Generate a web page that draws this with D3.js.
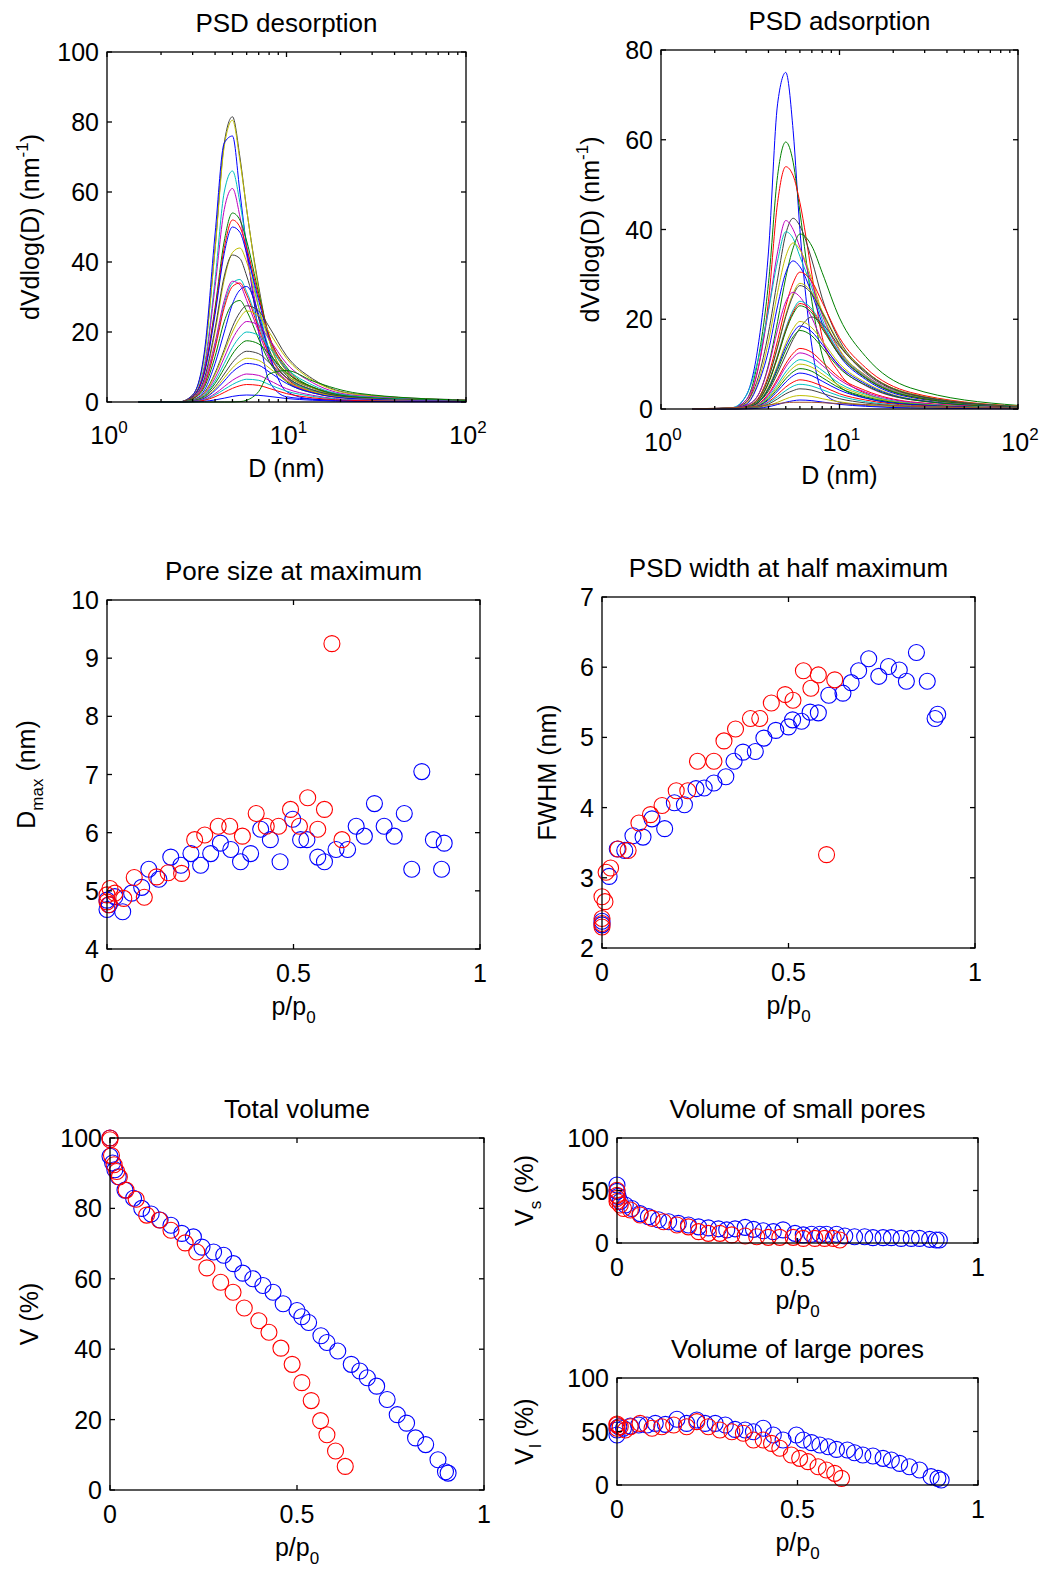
<!DOCTYPE html>
<html>
<head>
<meta charset="utf-8">
<script src="https://cdn.jsdelivr.net/npm/d3@7/dist/d3.min.js"></script>
<style>
  body { margin: 0; background: #fff; }
  text { font-family: "Liberation Sans", Arial, sans-serif; fill: #000; }
</style>
</head>
<body>
<svg id="fig" width="1045" height="1573"></svg>
<script>
// ---- data ----

// pore diameters (nm) where each PSD curve was read
const psdGrid = [1.5, 2.5, 3, 3.5, 4, 4.5, 5, 5.5, 6, 7, 8, 10, 14, 25, 100];

const desorptionColors = ["k", "y", "b", "c", "m", "g", "r", "b", "y", "k", "c", "m", "r", "b",
  "g", "k", "y", "m", "c", "g", "k", "y", "b", "m", "c", "r", "b", "g"];
const desorptionCurves = [
  [0, 0, 2, 14, 44, 74, 81.5, 70, 55, 33, 18, 8, 4, 1.5, 0.3],
  [0, 0, 2, 13.7, 43.5, 73, 80.5, 69, 55, 32, 17.7, 8, 4, 1.4, 0.3],
  [0, 0, 2, 15, 48, 74, 76, 60, 44, 20, 6, 1.5, 0.8, 0.4, 0.2],
  [0, 0, 1.6, 11, 35, 60, 66, 57, 45, 27, 15, 7, 3.3, 1.2, 0.3],
  [0, 0, 1.5, 10, 33, 55, 61, 53, 42, 24, 13, 6, 3, 1.1, 0.2],
  [0, 0, 1.6, 9, 27, 46, 54, 52, 46, 31, 19, 10, 4.3, 1.6, 0.3],
  [0, 0, 1.6, 9, 26, 44, 52, 50, 44, 30, 19, 9.4, 4.2, 1.6, 0.3],
  [0, 0, 1.5, 8.5, 25, 42.5, 50, 48.5, 42.5, 29, 18, 9, 4, 1.5, 0.3],
  [0, 0, 1.3, 6.6, 20, 35, 42.7, 44, 40, 27, 17.6, 8.8, 4, 1.3, 0.3],
  [0, 0, 1.3, 7, 21, 36, 42, 41, 36, 24, 15, 7.6, 3.4, 1.3, 0.3],
  [0, 0, 1, 5.3, 16, 28, 34, 35, 31.5, 22, 14, 7, 3.2, 1, 0.2],
  [0, 0, 1, 6, 17, 29, 34.5, 33.5, 29, 20, 12.4, 6.2, 2.8, 1, 0.2],
  [0, 0, 1, 5, 15.3, 27, 33, 34, 30.6, 21, 13.6, 6.8, 3, 1, 0.2],
  [0, 0, 0.6, 3.5, 11, 20, 28, 32, 33, 25, 14, 3, 0.8, 0.3, 0.1],
  [0, 0, 0.9, 4.4, 13, 23, 28, 29, 26, 18, 11.6, 5.8, 2.6, 0.9, 0.2],
  [0, 0, 0.6, 2.8, 8.3, 15, 21.5, 25.6, 27.5, 26, 21.5, 13.2, 6.6, 2.2, 0.6],
  [0, 0, 0.5, 2.6, 7.8, 14.3, 20, 24, 26, 24.7, 20, 12.5, 6.2, 2.1, 0.5],
  [0, 0, 0.5, 2.3, 6.9, 12.7, 18, 21.4, 23, 21.9, 18, 11, 5.5, 1.8, 0.5],
  [0, 0, 0.4, 2, 6, 11, 15.6, 18.6, 20, 19, 15.6, 9.6, 4.8, 1.6, 0.4],
  [0, 0, 0.35, 1.75, 5.3, 9.6, 13.7, 16.3, 17.5, 16.6, 13.7, 8.4, 4.2, 1.4, 0.35],
  [0, 0, 0.3, 1.5, 4.4, 8, 11.3, 13.5, 14.5, 13.8, 11.3, 7, 3.5, 1.2, 0.3],
  [0, 0, 0.25, 1.25, 3.75, 6.9, 9.75, 11.6, 12.5, 11.9, 9.75, 6, 3, 1, 0.25],
  [0, 0, 0.2, 1.1, 3.3, 6, 8.6, 10.2, 11, 10.5, 8.6, 5.3, 2.6, 0.9, 0.2],
  [0, 0, 0.16, 0.8, 2.4, 4.4, 6.2, 7.4, 8, 7.6, 6.2, 3.8, 1.9, 0.6, 0.16],
  [0, 0, 0.13, 0.65, 2, 3.6, 5, 6, 6.5, 6.2, 5, 3.1, 1.6, 0.5, 0.13],
  [0, 0, 0.1, 0.5, 1.5, 2.75, 3.9, 4.65, 5, 4.75, 3.9, 2.4, 1.2, 0.4, 0.1],
  [0, 0, 0.04, 0.2, 0.6, 1.1, 1.6, 1.9, 2, 1.9, 1.6, 1, 0.5, 0.16, 0.04],
  [0, 0, 0, 0, 0, 0, 0, 0.1, 0.5, 3, 8, 9, 6, 2.5, 0.5]
];

const adsorptionColors = ["b", "g", "r", "k", "m", "c", "g", "y", "b", "r", "y", "k", "m", "c",
  "r", "g", "k", "y", "b", "g", "r", "m", "c", "y", "g", "b", "r", "c", "k", "y", "b", "n"];
const adsorptionCurves = [
  [0, 0.2, 3, 14, 35, 68, 75, 62, 40, 14, 4, 1.5, 0.8, 0.4, 0.1],
  [0, 0.2, 2, 11, 28, 52, 59.5, 55, 44, 24, 12, 5, 2.5, 1, 0.2],
  [0, 0.2, 1.5, 9, 24, 46, 54, 52, 46, 30, 16, 8, 3.5, 1.3, 0.2],
  [0, 0.2, 1.5, 7, 17, 29, 39, 42.5, 40.8, 33.2, 24.7, 15.3, 8.5, 3.4, 0.5],
  [0, 0.3, 2, 9, 22, 35, 42, 40, 36, 28, 21, 13, 7.5, 3, 0.5],
  [0, 0.3, 3, 11, 22, 33, 39.5, 38, 34, 27, 20, 12.5, 7, 2.8, 0.5],
  [0, 0.2, 0.8, 3.1, 9.8, 19.5, 29.3, 35.9, 39, 36.3, 30.4, 20.3, 11.7, 4.7, 0.8],
  [0, 0.2, 1.2, 6, 15, 26, 34, 37, 35.5, 28.9, 21.5, 13.3, 7.4, 3, 0.44],
  [0, 0.2, 1, 5.5, 13, 23, 30.4, 33, 31.7, 25.7, 19.1, 11.9, 6.6, 2.6, 0.4],
  [0, 0.15, 0.6, 2.4, 7.6, 15.3, 22.9, 28.1, 30.5, 28.4, 23.8, 15.9, 9.2, 3.7, 0.6],
  [0, 0.14, 0.56, 2.2, 7, 14, 21, 25.8, 28, 26, 21.8, 14.6, 8.4, 3.4, 0.56],
  [0, 0.14, 0.55, 2.2, 6.9, 13.8, 20.6, 25.3, 27.5, 25.6, 21.5, 14.3, 8.3, 3.3, 0.55],
  [0, 0.13, 0.8, 3.1, 9.4, 17.7, 23.9, 26, 25, 20.3, 15.1, 9.4, 5.2, 2.1, 0.3],
  [0, 0.12, 0.48, 1.9, 6, 12, 18, 22.1, 24, 22.3, 18.7, 12.5, 7.2, 2.9, 0.5],
  [0, 0.12, 0.47, 1.9, 5.9, 11.8, 17.6, 21.6, 23.5, 21.9, 18.3, 12.2, 7, 2.8, 0.47],
  [0, 0.12, 0.46, 1.8, 5.75, 11.5, 17.3, 21.2, 23, 21.4, 17.9, 12, 6.9, 2.8, 0.46],
  [0, 0.1, 0.4, 1.4, 4, 8, 12, 15.5, 18, 20.5, 19, 14, 8, 3.2, 0.5],
  [0, 0.1, 0.39, 1.6, 4.9, 9.75, 14.6, 17.9, 19.5, 18.1, 15.2, 10.1, 5.9, 2.3, 0.4],
  [0, 0.09, 0.37, 1.5, 4.6, 9.25, 13.9, 17, 18.5, 17.2, 14.4, 9.6, 5.6, 2.2, 0.37],
  [0, 0.09, 0.35, 1.4, 4.4, 8.75, 13.1, 16.1, 17.5, 16.3, 13.7, 9.1, 5.3, 2.1, 0.35],
  [0, 0.07, 0.27, 1.1, 3.4, 6.75, 10.1, 12.4, 13.5, 12.6, 10.5, 7, 4.1, 1.6, 0.27],
  [0, 0.06, 0.25, 1, 3.1, 6.25, 9.4, 11.5, 12.5, 11.6, 9.75, 6.5, 3.75, 1.5, 0.25],
  [0, 0.06, 0.22, 0.9, 2.75, 5.5, 8.25, 10.1, 11, 10.2, 8.6, 5.7, 3.3, 1.3, 0.22],
  [0, 0.05, 0.2, 0.8, 2.5, 5, 7.5, 9.2, 10, 9.3, 7.8, 5.2, 3, 1.2, 0.2],
  [0, 0.05, 0.18, 0.7, 2.25, 4.5, 6.75, 8.3, 9, 8.4, 7, 4.7, 2.7, 1.1, 0.18],
  [0, 0.04, 0.16, 0.64, 2, 4, 6, 7.4, 8, 7.4, 6.2, 4.2, 2.4, 1, 0.16],
  [0, 0.03, 0.13, 0.5, 1.6, 3.25, 4.9, 6, 6.5, 6, 5.1, 3.4, 2, 0.8, 0.13],
  [0, 0.03, 0.11, 0.44, 1.4, 2.75, 4.1, 5.1, 5.5, 5.1, 4.3, 2.9, 1.65, 0.66, 0.11],
  [0, 0.02, 0.09, 0.36, 1.1, 2.25, 3.4, 4.1, 4.5, 4.2, 3.5, 2.3, 1.35, 0.54, 0.09],
  [0, 0.015, 0.06, 0.24, 0.75, 1.5, 2.25, 2.8, 3, 2.8, 2.3, 1.6, 0.9, 0.36, 0.06],
  [0, 0.01, 0.04, 0.16, 0.5, 1, 1.5, 1.84, 2, 1.86, 1.56, 1.04, 0.6, 0.24, 0.04],
  [0, 0.3, 0.4, 0.6, 0.9, 1.2, 1.4, 1.5, 1.5, 1.5, 1.4, 1.2, 1, 0.6, 0.2]
];

// [p/p0, value] pairs, blue = adsorption branch, red = desorption branch
const dmaxBlue = [[0, 4.68], [0.006, 4.76], [0.021, 4.9], [0, 4.84], [0.042, 4.64], [0.066, 4.96],
  [0.093, 5.06], [0.112, 5.37], [0.139, 5.2], [0.171, 5.58], [0.198, 5.44], [0.225, 5.64],
  [0.251, 5.44], [0.278, 5.64], [0.304, 5.82], [0.332, 5.71], [0.358, 5.5], [0.385, 5.64],
  [0.412, 6.06], [0.438, 5.88], [0.464, 5.5], [0.498, 6.23], [0.519, 5.88], [0.536, 5.88],
  [0.565, 5.58], [0.583, 5.5], [0.614, 5.71], [0.645, 5.71], [0.668, 6.11], [0.69, 5.94],
  [0.717, 6.5], [0.743, 6.11], [0.77, 5.94], [0.797, 6.33], [0.817, 5.37], [0.844, 7.05],
  [0.875, 5.88], [0.897, 5.37], [0.904, 5.82]];
const dmaxRed = [[0, 4.93], [0.008, 5.04], [0, 4.81], [0.004, 4.76], [0.021, 4.96], [0.045, 4.87],
  [0.073, 5.23], [0.1, 4.89], [0.133, 5.24], [0.164, 5.31], [0.2, 5.3], [0.235, 5.88],
  [0.262, 5.96], [0.298, 6.11], [0.329, 6.11], [0.363, 5.94], [0.4, 6.33], [0.427, 6.11],
  [0.46, 6.11], [0.492, 6.4], [0.516, 6.11], [0.538, 6.6], [0.565, 6.06], [0.583, 6.4],
  [0.603, 9.25], [0.63, 5.88]];

const fwhmBlue = [[0, 2.33], [0, 2.38], [0.019, 3.02], [0.041, 3.41], [0.061, 3.39], [0.083, 3.6],
  [0.11, 3.58], [0.134, 3.84], [0.168, 3.7], [0.194, 4.07], [0.221, 4.04], [0.252, 4.27],
  [0.274, 4.28], [0.3, 4.35], [0.332, 4.44], [0.354, 4.66], [0.378, 4.79], [0.411, 4.8],
  [0.434, 4.99], [0.466, 5.1], [0.5, 5.15], [0.511, 5.25], [0.535, 5.23], [0.558, 5.36],
  [0.58, 5.35], [0.608, 5.6], [0.646, 5.63], [0.668, 5.78], [0.688, 5.95], [0.715, 6.12],
  [0.742, 5.87], [0.768, 6.01], [0.797, 5.96], [0.816, 5.8], [0.843, 6.21], [0.872, 5.8],
  [0.893, 5.27], [0.9, 5.33]];
const fwhmRed = [[0, 2.3], [0, 2.35], [0, 2.42], [0, 2.73], [0.008, 2.66], [0.011, 3.08],
  [0.023, 3.14], [0.043, 3.41], [0.07, 3.39], [0.099, 3.78], [0.13, 3.9], [0.161, 4.03],
  [0.199, 4.24], [0.23, 4.24], [0.256, 4.66], [0.3, 4.66], [0.327, 4.95], [0.358, 5.12],
  [0.398, 5.27], [0.423, 5.27], [0.454, 5.49], [0.491, 5.61], [0.512, 5.53], [0.54, 5.95],
  [0.56, 5.7], [0.58, 5.89], [0.602, 3.33], [0.624, 5.82]];

const volBlue = [[0, 100], [0, 94.8], [0.007, 92.9], [0.013, 91], [0.022, 89], [0.04, 85.2],
  [0.063, 82.9], [0.085, 80], [0.11, 78.4], [0.134, 76.7], [0.163, 75.2], [0.192, 72.9],
  [0.223, 71.9], [0.246, 69], [0.277, 67.6], [0.304, 66.7], [0.33, 64.3], [0.355, 61.6],
  [0.382, 60], [0.409, 58.1], [0.436, 56.2], [0.463, 52.9], [0.5, 51], [0.513, 49.2],
  [0.531, 47.6], [0.564, 43.8], [0.58, 41.9], [0.609, 39.5], [0.645, 35.7], [0.668, 33.8],
  [0.688, 31.9], [0.713, 29.5], [0.741, 25.7], [0.768, 21.4], [0.793, 19], [0.817, 14.8],
  [0.844, 12.9], [0.877, 8.6], [0.897, 5.2], [0.904, 4.8]];
const volRed = [[0, 100], [0, 99.5], [0.004, 95], [0.011, 92.4], [0.018, 90.5], [0.025, 88.9],
  [0.043, 85.2], [0.07, 82.6], [0.098, 78.1], [0.132, 76.7], [0.163, 73.8], [0.201, 70.2],
  [0.232, 67.6], [0.259, 63.1], [0.296, 59], [0.329, 56.2], [0.359, 51.7], [0.398, 48.1],
  [0.425, 44.8], [0.457, 40.3], [0.487, 35.7], [0.513, 30.5], [0.538, 25.4], [0.563, 19.7],
  [0.58, 15.7], [0.603, 11.1], [0.629, 6.7]];

const smallBlue = [[0, 55.2], [0, 49.2], [0.003, 44.4], [0.009, 39.5], [0.023, 36.2], [0.041, 32.8],
  [0.064, 28], [0.087, 25.1], [0.115, 22.2], [0.143, 20.2], [0.17, 18.7], [0.198, 17.1],
  [0.226, 15.4], [0.253, 14.4], [0.281, 13.5], [0.304, 12.5], [0.327, 13.5], [0.355, 14.9],
  [0.378, 13], [0.405, 11.7], [0.433, 10.8], [0.46, 12.5], [0.493, 9.2], [0.516, 7.7],
  [0.539, 8.3], [0.562, 8.3], [0.58, 8.3], [0.608, 8.3], [0.631, 6.7], [0.658, 6],
  [0.686, 6], [0.709, 5.1], [0.737, 5.1], [0.76, 5.1], [0.787, 4.4], [0.815, 4.4],
  [0.838, 4.4], [0.866, 3.5], [0.884, 2.9], [0.893, 2.9]];
const smallRed = [[0, 50.2], [0, 45.4], [0, 42.5], [0, 39.5], [0.009, 36.2], [0.018, 32.8],
  [0.037, 31.4], [0.064, 26.7], [0.097, 23.5], [0.129, 20.2], [0.166, 17.1], [0.198, 15.4],
  [0.226, 10.8], [0.253, 9.2], [0.285, 9.2], [0.318, 7.7], [0.355, 6.7], [0.387, 6],
  [0.419, 5.4], [0.451, 5.4], [0.488, 5.4], [0.516, 4.4], [0.548, 4.4], [0.575, 4.4],
  [0.599, 4.4], [0.617, 2.9]];

const largeBlue = [[0, 46.7], [0, 51.4], [0.005, 54.5], [0.018, 53], [0.037, 55.1], [0.06, 56.1],
  [0.083, 56.1], [0.106, 57.6], [0.134, 56.7], [0.166, 61.4], [0.193, 57.6], [0.221, 60.7],
  [0.244, 57.6], [0.272, 57.6], [0.3, 56.1], [0.327, 52], [0.355, 51.4], [0.378, 49.8],
  [0.405, 53], [0.433, 46.7], [0.46, 42], [0.497, 46.7], [0.516, 42], [0.539, 39.6],
  [0.562, 37.4], [0.585, 35.8], [0.608, 33.3], [0.638, 32.7], [0.658, 30.2], [0.681, 28],
  [0.709, 27.1], [0.737, 24.9], [0.76, 23.4], [0.783, 20.2], [0.81, 17.1], [0.838, 14],
  [0.87, 7.8], [0.889, 6.2], [0.898, 4.7]];
const largeRed = [[0, 53], [0, 56.1], [0, 57], [0.009, 54.5], [0.023, 51.4], [0.037, 54.5],
  [0.064, 57.6], [0.097, 53], [0.124, 54.5], [0.157, 56.1], [0.193, 54.5], [0.221, 59.2],
  [0.253, 54.5], [0.285, 51.4], [0.318, 49.8], [0.35, 48.3], [0.378, 42], [0.405, 42],
  [0.428, 38.9], [0.451, 34.3], [0.483, 28], [0.506, 24.9], [0.529, 21.8], [0.557, 17.1],
  [0.58, 14], [0.603, 10.9], [0.622, 6.2]];

// tick values
const logMajor = [1, 10, 100];
const logMinor = [2, 3, 4, 5, 6, 7, 8, 9, 20, 30, 40, 50, 60, 70, 80, 90];
const desTicks = [0, 20, 40, 60, 80, 100];
const adsTicks = [0, 20, 40, 60, 80];
const pTicks = [0, 0.5, 1];
const dmaxTicks = [4, 5, 6, 7, 8, 9, 10];
const fwhmTicks = [2, 3, 4, 5, 6, 7];
const volTicks = [0, 20, 40, 60, 80, 100];
const poreTicks = [0, 50, 100];

// ---- drawing ----
const colorMap = { b: "#0000ff", g: "#008000", r: "#ff0000", c: "#00bfbf", m: "#bf00bf",
  y: "#bfbf00", k: "#404040", n: "#a0522d" };
const FS = 25, SFS = 17, TFS = 26;
const svg = d3.select("#fig");

function rich(text, parts) {
  let shift = 0;
  parts.forEach((p) => {
    const target = p[1] === "sub" ? 8 : p[1] === "sup" ? -11 : 0;
    const ts = text.append("tspan").text(p[0]).attr("dy", target - shift);
    if (p[1]) ts.attr("font-size", SFS);
    shift = target;
  });
  return text;
}

function frame(x, y, xTicks, yTicks, log) {
  const [x0, x1] = x.range();
  const [y0, y1] = y.range();
  const g = svg.append("g");
  g.append("rect")
    .attr("x", x0).attr("y", y1)
    .attr("width", x1 - x0).attr("height", y0 - y1)
    .attr("fill", "none").attr("stroke", "#000").attr("stroke-width", 1.3);
  const tick = (x1_, y1_, x2_, y2_) =>
    g.append("line").attr("x1", x1_).attr("y1", y1_).attr("x2", x2_).attr("y2", y2_)
      .attr("stroke", "#000").attr("stroke-width", 1.3);
  xTicks.forEach((v) => {
    tick(x(v), y0, x(v), y0 - 5);
    tick(x(v), y1, x(v), y1 + 5);
  });
  if (log) {
    logMinor.forEach((v) => {
      tick(x(v), y0, x(v), y0 - 3);
      tick(x(v), y1, x(v), y1 + 3);
    });
  }
  yTicks.forEach((v) => {
    tick(x0, y(v), x0 + 5, y(v));
    tick(x1, y(v), x1 - 5, y(v));
    g.append("text").attr("x", x0 - 8).attr("y", y(v) + 9)
      .attr("text-anchor", "end").attr("font-size", FS).text(v);
  });
  xTicks.forEach((v) => {
    if (log) {
      rich(g.append("text").attr("x", x(v) + 2).attr("y", y0 + 42)
        .attr("text-anchor", "middle").attr("font-size", FS),
        [["10"], [String(Math.round(Math.log10(v))), "sup"]]);
    } else {
      g.append("text").attr("x", x(v)).attr("y", y0 + 33)
        .attr("text-anchor", "middle").attr("font-size", FS).text(v);
    }
  });
  return g;
}

function labels(x, y, title, xParts, xOff, yParts, yX) {
  const [x0, x1] = x.range();
  const [y0, y1] = y.range();
  svg.append("text").attr("x", (x0 + x1) / 2).attr("y", y1 - 20)
    .attr("text-anchor", "middle").attr("font-size", TFS).text(title);
  rich(svg.append("text").attr("x", (x0 + x1) / 2).attr("y", y0 + xOff)
    .attr("text-anchor", "middle").attr("font-size", FS), xParts);
  rich(svg.append("text")
    .attr("transform", `translate(${yX},${(y0 + y1) / 2}) rotate(-90)`)
    .attr("text-anchor", "middle").attr("font-size", FS), yParts);
}

function psdPanel(box, yMax, yTicks, curves, colors, title, yX) {
  const x = d3.scaleLog().domain([1, 100]).range([box.l, box.r]);
  const y = d3.scaleLinear().domain([0, yMax]).range([box.b, box.t]);
  const line = d3.line().x((d) => x(d[0])).y((d) => y(d[1])).curve(d3.curveMonotoneX);
  svg.append("g").selectAll("path")
    .data(curves)
    .enter()
    .append("path")
    .attr("d", (c) => line(psdGrid.map((D, i) => [D, c[i]])))
    .attr("fill", "none")
    .attr("stroke", (c, i) => colorMap[colors[i]])
    .attr("stroke-width", 1);
  frame(x, y, logMajor, yTicks, true);
  labels(x, y, title, [["D (nm)"]], 75,
    [["dVdlog(D) (nm"], ["-1", "sup"], [")"]], yX);
}

function scatterPanel(box, yDomain, yTicks, blue, red, title, yParts, yX) {
  const x = d3.scaleLinear().domain([0, 1]).range([box.l, box.r]);
  const y = d3.scaleLinear().domain(yDomain).range([box.b, box.t]);
  [[blue, "#0000ff"], [red, "#ff0000"]].forEach(([pts, col]) => {
    svg.append("g").selectAll("circle")
      .data(pts)
      .enter()
      .append("circle")
      .attr("cx", (d) => x(d[0]))
      .attr("cy", (d) => y(d[1]))
      .attr("r", 8)
      .attr("fill", "none")
      .attr("stroke", col)
      .attr("stroke-width", 1.1);
  });
  frame(x, y, pTicks, yTicks, false);
  labels(x, y, title, [["p/p"], ["0", "sub"]], 66, yParts, yX);
}

psdPanel({ l: 107, r: 466, t: 52, b: 402 }, 100, desTicks, desorptionCurves, desorptionColors,
  "PSD desorption", 39);
psdPanel({ l: 661, r: 1018, t: 50, b: 409 }, 80, adsTicks, adsorptionCurves, adsorptionColors,
  "PSD adsorption", 599);

scatterPanel({ l: 107, r: 480, t: 600, b: 949 }, [4, 10], dmaxTicks, dmaxBlue, dmaxRed,
  "Pore size at maximum", [["D"], ["max", "sub"], [" (nm)"]], 35);
scatterPanel({ l: 602, r: 975, t: 597, b: 948 }, [2, 7], fwhmTicks, fwhmBlue, fwhmRed,
  "PSD width at half maximum", [["FWHM (nm)"]], 556);
scatterPanel({ l: 110, r: 484, t: 1138, b: 1490 }, [0, 100], volTicks, volBlue, volRed,
  "Total volume", [["V (%)"]], 38);
scatterPanel({ l: 617, r: 978, t: 1138, b: 1243 }, [0, 100], poreTicks, smallBlue, smallRed,
  "Volume of small pores", [["V"], ["s", "sub"], [" (%)"]], 533);
scatterPanel({ l: 617, r: 978, t: 1378, b: 1485 }, [0, 100], poreTicks, largeBlue, largeRed,
  "Volume of large pores", [["V"], ["l", "sub"], [" (%)"]], 533);
</script>
</body>
</html>
